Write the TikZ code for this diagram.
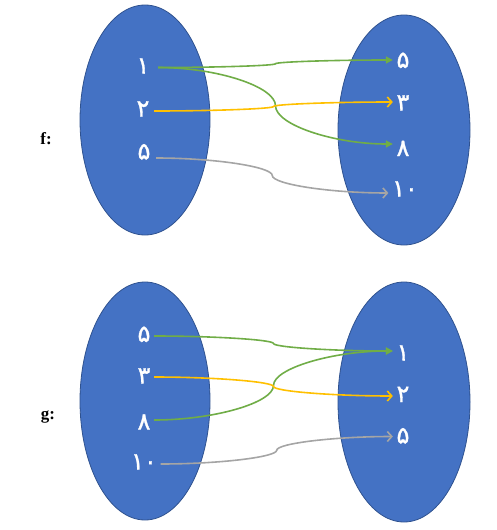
\documentclass[tikz,border=0pt]{standalone}
\usepackage{fontspec}
\setmainfont{Liberation Serif}
\newfontfamily\fa[Script=Arabic,FakeBold=1.2]{DejaVu Sans}
\usetikzlibrary{shapes.geometric,arrows.meta,calc}
\definecolor{setblue}{HTML}{4472C4}
\definecolor{setedge}{HTML}{2F528F}
\definecolor{cgreen}{HTML}{70AD47}
\definecolor{cyellow}{HTML}{FFC000}
\definecolor{cgray}{HTML}{A5A5A5}
\tikzset{
  setell/.style={ellipse,fill=setblue,draw=setedge,line width=0.8pt,inner sep=0pt},
  num/.style={text=white,font=\fa\fontsize{24}{24}\selectfont,inner xsep=3.5pt,inner ysep=0pt,text height=14pt,text depth=0pt},
  fname/.style={font=\bfseries\fontsize{17}{17}\selectfont,inner sep=0pt},
  curvy/.style={to path={let \p1=(\tikztostart), \p2=(\tikztotarget),
     \n1={(\x1+\x2)/2}, \n2={(\y1+\y2)/2} in
     .. controls ({(3*\x1+\x2)/4},\y1) and (\n1,{(3*\y1+\y2)/4}) .. (\n1,\n2)
     .. controls (\n1,{(\y1+3*\y2)/4}) and ({(\x1+3*\x2)/4},\y2) .. (\tikztotarget)}},
  gline/.style={draw=cgreen,line width=1.6pt,-{Triangle[length=7pt,width=7pt]},curvy},
  yline/.style={draw=cyellow,line width=1.6pt,-{Straight Barb[length=4.5pt,width=10pt]},curvy},
  aline/.style={draw=cgray,line width=1.6pt,-{Straight Barb[length=4.5pt,width=10pt]},curvy},
}
\begin{document}
\begin{tikzpicture}[x=1pt,y=-1pt]
\useasboundingbox (0,0) rectangle (496,530);
% ellipses
\node[setell,minimum width=130pt,minimum height=230pt] (A) at (145,120) {};
\node[setell,minimum width=132pt,minimum height=230pt] (B) at (404,130) {};
\node[setell,minimum width=130pt,minimum height=238pt] (C) at (145,401) {};
\node[setell,minimum width=132pt,minimum height=240pt] (D) at (404,402) {};
% labels
\node[fname] (f) at (46,139) {f:};
\node[fname] (g) at (48,417) {g:};
% f numbers
\node[num] (a1) at (143,66.5) {۱};
\node[num] (a2) at (143,109.5) {۲};
\node[num] (a5) at (144,152.5) {۵};
\node[num] (b5) at (403,61) {۵};
\node[num] (b3) at (403,103.5) {۳};
\node[num] (b8) at (403,149) {۸};
\node[num] (b10) at (405,189.5) {۱۰};
% g numbers
\node[num] (c5) at (144,335) {۵};
\node[num] (c3) at (144,376.5) {۳};
\node[num] (c8) at (144,422.5) {۸};
\node[num] (c10) at (144,462.5) {۱۰};
\node[num] (d1) at (403,353.5) {۱};
\node[num] (d2) at (403,395) {۲};
\node[num] (d5) at (403,436.5) {۵};
% f arrows
\draw[gline] ([yshift=-1pt,xshift=5pt]a1.east) to ([yshift=1pt]b5.west);
\draw[gline] ([yshift=-1pt,xshift=5pt]a1.east) to ([yshift=5pt]b8.west);
\draw[yline] ([yshift=-1.5pt,xshift=1pt]a2.east) to ([yshift=1.5pt]b3.west);
\draw[aline] ([yshift=-5.5pt,xshift=2pt]a5.east) to ([yshift=-3.5pt]b10.west);
% g arrows
\draw[gline] ([yshift=-1pt]c5.east) to ([yshift=2.5pt]d1.west);
\draw[gline] ([yshift=2.5pt]c8.east) to ([yshift=2.5pt]d1.west);
\draw[yline] ([yshift=-0.5pt]c3.east) to ([yshift=-1pt]d2.west);
\draw[aline] ([yshift=-1.5pt]c10.east) to (d5.west);
\end{tikzpicture}
\end{document}
